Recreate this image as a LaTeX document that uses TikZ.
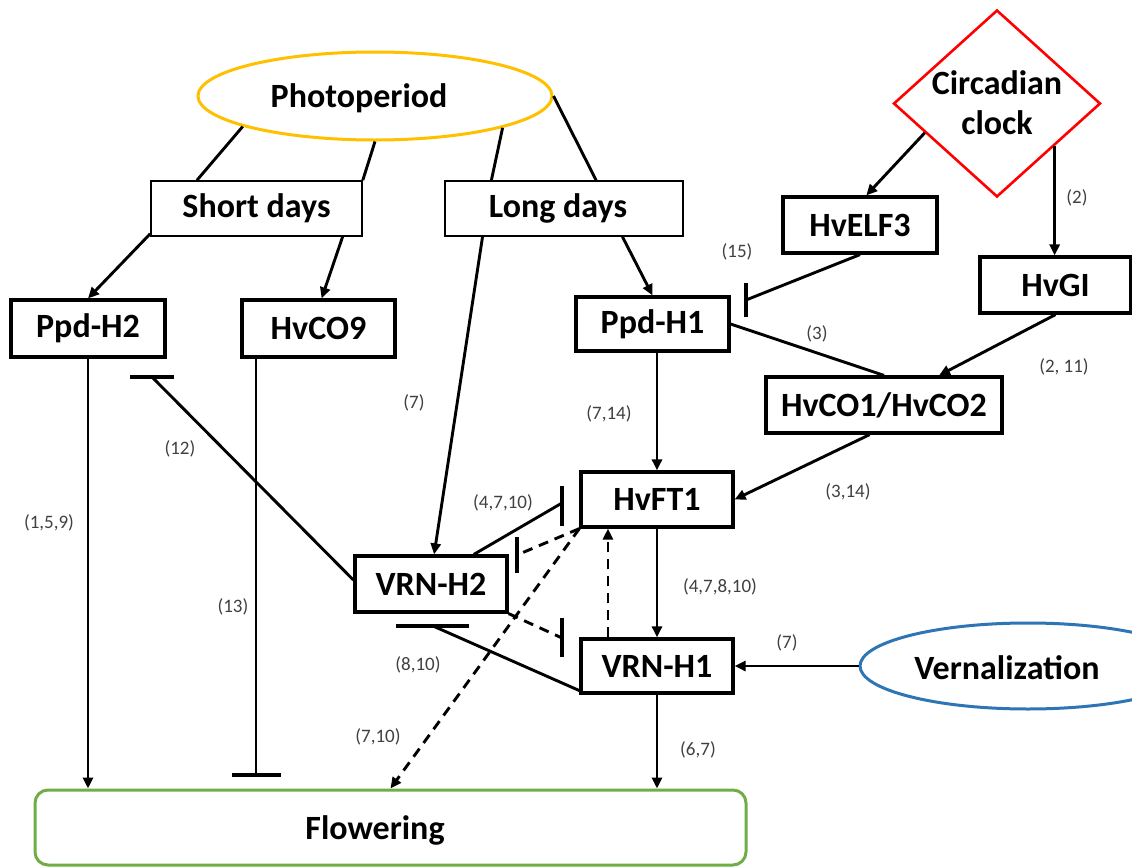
\documentclass[tikz,border=0pt]{standalone}
\usepackage{fontspec}
\setmainfont{Carlito}
\usetikzlibrary{shapes.geometric,arrows.meta,calc}
\definecolor{photoY}{HTML}{FFC000}
\definecolor{vernB}{HTML}{2E75B6}
\definecolor{flowG}{HTML}{70AD47}
\definecolor{clockR}{HTML}{FF0000}
\definecolor{refG}{HTML}{404040}
\begin{document}
\begin{tikzpicture}[x=0.5pt,y=-0.5pt,
  nodefont/.style={font=\fontsize{17}{20}\selectfont\bfseries},
  gene/.style={nodefont,draw,line width=1.6pt,fill=white,inner sep=0pt},
  daybox/.style={nodefont,draw,line width=0.8pt,fill=white,inner sep=0pt},
  conn/.style={line width=1.45pt},
  arr/.style={-{Triangle[length=5.5pt,width=5pt]}},
  dsh/.style={dash pattern=on 5pt off 3.5pt},
  bar/.style={line width=1.6pt},
  lbl/.style={font=\fontsize{9.5}{11}\selectfont,text=refG,inner sep=0pt}]
\useasboundingbox (0,0) rectangle (1132,868);

% environment nodes
\node[ellipse,draw=photoY,line width=1.5pt,minimum width=177pt,minimum height=44pt,inner sep=0pt] (Photo) at (375,96) {};
\node[nodefont] (PhotoT) at (359,98) {Photoperiod};
\node[diamond,draw=clockR,line width=1.3pt,minimum width=103.5pt,minimum height=93.5pt,inner sep=0pt] (clock) at (997,103.5) {};
\node[nodefont,align=center] (clockT) at (997,103) {Circadian\\clock};
\node[ellipse,draw=vernB,line width=1.5pt,minimum width=168pt,minimum height=43pt,inner sep=0pt] (Vern) at (1028,666) {};
\node[nodefont] (VernT) at (1007,668) {Vernalization};
\node[draw=flowG,line width=1.5pt,rounded corners=6.5pt,minimum width=355.5pt,minimum height=37.5pt,inner sep=0pt] (Flow) at (390.5,827.5) {};
\node[nodefont] (FlowT) at (375,830) {Flowering};

% day boxes
\node[daybox,minimum width=105.5pt,minimum height=27.5pt] (SD) at (256.5,208.5) {Short days};
\node[daybox,minimum width=119pt,minimum height=27.5pt] (LD) at (564,208.5) {\hspace*{-6pt}Long days};

% genes
\node[gene,minimum width=77pt,minimum height=28.5pt] (PpdH2) at (88,328.5) {Ppd-H2};
\node[gene,minimum width=76.5pt,minimum height=28.5pt] (HvCO9) at (318.5,328.5) {HvCO9};
\node[gene,minimum width=76.5pt,minimum height=27pt] (PpdH1) at (652.5,324) {Ppd-H1};
\node[gene,minimum width=77pt,minimum height=28pt] (ELF3) at (860,225) {HvELF3};
\node[gene,minimum width=75.5pt,minimum height=28pt] (HvGI) at (1055.5,285) {HvGI};
\node[gene,minimum width=118pt,minimum height=28pt] (CO12) at (884,405) {HvCO1/HvCO2};
\node[gene,minimum width=76pt,minimum height=27.5pt] (HvFT1) at (657,499.5) {HvFT1};
\node[gene,minimum width=76pt,minimum height=28pt] (VRNH2) at (431,584) {VRN-H2};
\node[gene,minimum width=76pt,minimum height=27pt] (VRNH1) at (657,666) {VRN-H1};

% photoperiod connectors
\draw[conn] (Photo.193) -- ($(SD.north west)!0.22!(SD.north east)$);
\draw[conn] (Photo.south) -- (SD.north east);
\draw[conn] (Photo.346) -- ($(LD.north west)!0.197!(LD.north east)$);
\draw[conn] (Photo.east) -- ($(LD.north west)!0.634!(LD.north east)$);
\draw[conn,arr] ($(SD.south west)+(0,-3)$) -- (PpdH2.north);
\draw[conn,arr] ($(SD.south west)!0.905!(SD.south east)$) -- ($(HvCO9.north west)!0.52!(HvCO9.north east)$);
\draw[conn,arr] ($(LD.south west)!0.16!(LD.south east)$) -- ($(VRNH2.north west)!0.52!(VRNH2.north east)$);
\draw[conn,arr] ($(LD.south west)!0.744!(LD.south east)$) -- (PpdH1.north);

% circadian clock
\draw[conn,arr] ($(clock.west)!0.31!(clock.south)$) -- ($(ELF3.north west)!0.54!(ELF3.north east)$);
\coordinate (cg) at ($(clock.east)!0.45!(clock.south)$);
\draw[conn,arr] (cg) -- (cg |- HvGI.north);
\coordinate (bELF) at (746,300);
\draw[conn] (ELF3.south) -- (bELF);
\draw[bar] ($(bELF)+(0,-17)$) -- ($(bELF)+(0,17)$);
\draw[conn] (PpdH1.east) -- (CO12.north);
\draw[conn,arr] (HvGI.south) -- ($(CO12.north west)!0.73!(CO12.north east)$);
\draw[conn,arr] (PpdH1.south -| HvFT1.north) -- (HvFT1.north);
\draw[conn,arr] ($(CO12.south west)!0.44!(CO12.south east)$) -- (HvFT1.east);
\draw[conn,arr] (HvFT1.south) -- (VRNH1.north);
\draw[conn,arr] (Vern.west) -- (VRNH1.east);
\draw[conn,arr] (VRNH1.south) -- (VRNH1.south |- Flow.north);
\draw[conn,arr] (PpdH2.south) -- (PpdH2.south |- Flow.north);

% HvCO9 inhibition
\coordinate (bCO9) at (256,775);
\draw[conn] (bCO9 |- HvCO9.south) -- (bCO9);
\draw[bar] ($(bCO9)+(-24.5,0)$) -- ($(bCO9)+(24.5,0)$);

% VRN-H2 inhibitions
\coordinate (bPpd) at (152,377);
\draw[conn] ($(VRNH2.west)+(0,-4)$) -- (bPpd);
\draw[bar] ($(bPpd)+(-22,0)$) -- ($(bPpd)+(22,0)$);
\coordinate (bFT) at (562,503);
\draw[conn] ($(VRNH2.north west)!0.776!(VRNH2.north east)$) -- (bFT);
\draw[bar] ($(bFT)+(0,-17)$) -- ($(bFT)+(0,23)$);
\coordinate (bV1) at (562,638);
\draw[conn,dsh] (VRNH2.south east) -- (bV1);
\draw[bar] ($(bV1)+(0,-20)$) -- ($(bV1)+(0,19)$);

% HvFT1 dashed
\coordinate (bV2) at (517,555);
\draw[conn,dsh] (HvFT1.south west) -- (bV2);
\draw[bar] ($(bV2)+(0,-18)$) -- ($(bV2)+(0,18)$);
\draw[conn,dsh,arr] (HvFT1.south west) -- (Flow.north);
\draw[conn,dsh,arr] ($(VRNH1.north west)!0.184!(VRNH1.north east)$) -- ($(HvFT1.south west)!0.184!(HvFT1.south east)$);

% VRN-H1 inhibits VRN-H2
\coordinate (bV2b) at (433,626);
\draw[conn] ($(VRNH1.south west)+(0,-4)$) -- (bV2b);
\draw[bar] ($(bV2b)+(-37,0)$) -- ($(bV2b)+(36,0)$);

% reference labels
\node[lbl] (r1) at (1077,198) {(2)};
\node[lbl] (r2) at (737,252) {(15)};
\node[lbl] (r3) at (817,334) {(3)};
\node[lbl] (r4) at (1064,367) {(2, 11)};
\node[lbl] (r5) at (609,414) {(7,14)};
\node[lbl] (r6) at (414,403) {(7)};
\node[lbl] (r7) at (180,449) {(12)};
\node[lbl] (r8) at (49,523) {(1,5,9)};
\node[lbl] (r9) at (233,607) {(13)};
\node[lbl] (r10) at (503,503) {(4,7,10)};
\node[lbl] (r11) at (720,587) {(4,7,8,10)};
\node[lbl] (r12) at (848,492) {(3,14)};
\node[lbl] (r13) at (787,643) {(7)};
\node[lbl] (r14) at (418,665) {(8,10)};
\node[lbl] (r15) at (378,737) {(7,10)};
\node[lbl] (r16) at (698,750) {(6,7)};
\end{tikzpicture}
\end{document}
